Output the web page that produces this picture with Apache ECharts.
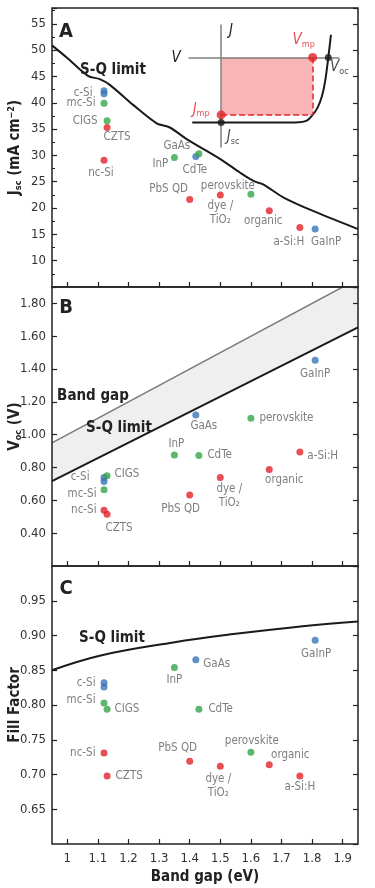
<!DOCTYPE html>
<html lang="en">
<head>
    <meta charset="UTF-8">
    <title>pv materials</title>
    <script src="https://cdn.jsdelivr.net/npm/echarts@6/dist/echarts.min.js"></script>
    <style>
        html, body { margin: 0; padding: 0; background: #fff; }
        #chart { width: 375px; height: 888px; }
    </style>
</head>
<body>
<div id="chart"></div>
<script>
    var materials = ['c-Si', 'c-Si', 'mc-Si', 'CIGS', 'CZTS', 'nc-Si', 'InP', 'GaAs', 'CdTe', 'PbS QD', 'dye /\nTiO₂', 'perovskite', 'organic', 'a-Si:H', 'GaInP'];
    var materialClass = ['both', 'both', 'one', 'one', 'none', 'none', 'one', 'both', 'one', 'none', 'none', 'one', 'none', 'none', 'both'];
    var bandGap = [1.12, 1.12, 1.12, 1.13, 1.13, 1.12, 1.35, 1.42, 1.43, 1.40, 1.50, 1.60, 1.66, 1.76, 1.81];
    var jsc = [42.3, 41.7, 39.9, 36.6, 35.3, 29.1, 29.6, 29.8, 30.3, 21.6, 22.5, 22.6, 19.5, 16.3, 16.0];
    var voc = [0.74, 0.715, 0.665, 0.75, 0.515, 0.54, 0.876, 1.12, 0.874, 0.632, 0.74, 1.10, 0.788, 0.894, 1.454];
    var ff = [0.832, 0.826, 0.803, 0.794, 0.698, 0.731, 0.854, 0.865, 0.794, 0.719, 0.712, 0.732, 0.714, 0.698, 0.893];

    // Shockley-Queisser limits
    var sqJscEg = [0.95, 1.00, 1.0675, 1.106, 1.139, 1.215, 1.292, 1.335, 1.39, 1.50, 1.565, 1.61, 1.64, 1.707, 1.805, 1.95];
    var sqJsc = [50.9, 48.5, 45.1, 44.5, 43.4, 39.6, 36.1, 35.3, 33.1, 29.3, 26.7, 25.1, 24.5, 22.0, 19.4, 16.0];
    var sqVocEg = [0.95, 1.95];
    var sqVoc = [0.717, 1.654];
    var gapVoc = [0.95, 1.95];
    var sqFfEg = [0.95, 1.106, 1.346, 1.543, 1.762, 1.95];
    var sqFf = [0.850, 0.871, 0.890, 0.902, 0.913, 0.920];

    // tick labels
    var gapTicks = [1.0, 1.1, 1.2, 1.3, 1.4, 1.5, 1.6, 1.7, 1.8, 1.9];

    // J-V schematic (normalised: V / Voc, J / Jsc)
    var jvV = [-0.27, 0.60, 0.72, 0.80, 0.854, 0.90, 0.94, 0.97, 1.00, 1.025];
    var jvJ = [1.00, 1.00, 0.995, 0.97, 0.882, 0.77, 0.60, 0.37, 0.00, -0.35];
    var vmp = 0.854, jmp = 0.882;

    var classColor = { both: '#3a73b9', one: '#35a548', none: '#e2232a' };
    var FONT = "'Liberation Sans Narrow', 'DejaVu Sans Condensed', sans-serif";

    // label placement: ['c', dx, dy] centred offset, ['l'|'r', distance, dy]
    var layoutA = {
        'c-Si': ['l', 8, 2], 'mc-Si': ['l', 5, 0], 'CIGS': ['l', 6, 0], 'CZTS': ['c', 10, 10],
        'nc-Si': ['c', -3, 13], 'InP': ['c', -14, 7], 'GaAs': ['c', -19, -10], 'CdTe': ['c', -4, 16],
        'PbS QD': ['c', -21, -11], 'dye /\nTiO₂': ['c', 0, 18], 'perovskite': ['c', -23, -8],
        'organic': ['c', -6, 10], 'a-Si:H': ['c', -11, 15], 'GaInP': ['c', 11, 13]
    };
    var layoutB = {
        'c-Si': ['l', 11, 0], 'mc-Si': ['l', 4, 4], 'CIGS': ['r', 4, -2], 'CZTS': ['c', 12, 14],
        'nc-Si': ['l', 4, 0], 'InP': ['c', 2, -11], 'GaAs': ['c', 8, 11], 'CdTe': ['r', 5, 0],
        'PbS QD': ['c', -9, 14], 'dye /\nTiO₂': ['c', 9, 19], 'perovskite': ['r', 5, 0],
        'organic': ['c', 15, 11], 'a-Si:H': ['r', 4, 4], 'GaInP': ['c', 0, 14]
    };
    var layoutC = {
        'c-Si': ['l', 5, 0], 'mc-Si': ['l', 5, -3], 'CIGS': ['r', 4, 0], 'CZTS': ['r', 5, 0],
        'nc-Si': ['l', 5, 0], 'InP': ['c', 0, 13], 'GaAs': ['r', 4, 4], 'CdTe': ['r', 6, 0],
        'PbS QD': ['c', -12, -13], 'dye /\nTiO₂': ['c', -2, 20], 'perovskite': ['c', 1, -11],
        'organic': ['c', 21, -10], 'a-Si:H': ['c', 0, 11], 'GaInP': ['c', 1, 14]
    };

    function makeLabel(spec) {
        if (!spec) return { show: false };
        var base = { show: true, formatter: '{b}', color: '#5c5c5c', fontSize: 11.5, fontFamily: FONT, lineHeight: 14 };
        if (spec[0] === 'c') {
            base.position = 'inside';
            base.align = 'center';
            base.offset = [spec[1], spec[2]];
        } else {
            base.position = spec[0] === 'l' ? 'left' : 'right';
            base.distance = spec[1];
            base.offset = [0, spec[2]];
        }
        return base;
    }

    function pointData(values, layout) {
        var seen = {};
        return materials.map(function (m, i) {
            var first = !seen[m];
            seen[m] = true;
            return {
                name: m,
                value: [bandGap[i], values[i]],
                itemStyle: { color: classColor[materialClass[i]] },
                label: makeLabel(first ? layout[m] : null)
            };
        });
    }

    function zip(xs, ys) {
        return xs.map(function (x, i) { return [x, ys[i]]; });
    }

    var frame = '#222';

    function xAx(gridIndex, withLabels) {
        return {
            type: 'value', gridIndex: gridIndex, min: 0.95, max: 1.95, z: 10,
            axisLine: { show: false },
            axisTick: { show: true, inside: true, length: 5, lineStyle: { color: frame, width: 1.2 }, customValues: gapTicks },
            axisLabel: withLabels ? {
                show: true, customValues: gapTicks, margin: 8, color: '#333', fontSize: 13, fontFamily: FONT,
                formatter: function (v) { return String(+v.toFixed(1)); }
            } : { show: false },
            splitLine: { show: false },
            name: withLabels ? 'Band gap (eV)' : '',
            nameLocation: 'middle', nameGap: 26, nameMoveOverlap: false,
            nameTextStyle: { fontSize: 15, fontWeight: 'bold', color: '#222', fontFamily: FONT }
        };
    }

    function yAx(gridIndex, min, max, interval, digits, showLabels, pos, name, minor) {
        return {
            type: 'value', gridIndex: gridIndex, min: min, max: max, interval: interval, position: pos, z: 10,
            axisLine: { show: false },
            axisTick: { show: true, inside: true, length: 5, lineStyle: { color: frame, width: 1.2 } },
            minorTick: { show: !!minor, splitNumber: 2, length: 3, lineStyle: { color: frame, width: 1 } },
            axisLabel: {
                show: showLabels, showMinLabel: false, showMaxLabel: false, margin: 6,
                color: '#333', fontSize: 13, fontFamily: FONT,
                formatter: function (v) { return v.toFixed(digits); }
            },
            splitLine: { show: false },
            name: name || '', nameLocation: 'middle', nameRotate: 90, nameGap: 29, nameMoveOverlap: false,
            nameTextStyle: {
                fontFamily: FONT, fontWeight: 'bold', fontSize: 15, color: '#222',
                rich: {
                    b: { fontFamily: FONT, fontWeight: 'bold', fontSize: 15, color: '#222' },
                    s: { fontFamily: FONT, fontWeight: 'bold', fontSize: 9, color: '#222', padding: [7, 0, 0, 0] },
                    p: { fontFamily: FONT, fontWeight: 'bold', fontSize: 9, color: '#222', padding: [0, 0, 7, 0] }
                }
            }
        };
    }

    function dotSeries(x, y, values, layout) {
        return {
            type: 'scatter', xAxisIndex: x, yAxisIndex: y, symbolSize: 7, z: 5,
            data: pointData(values, layout)
        };
    }

    function gridBox(top, height) {
        return {
            left: 52, top: top, width: 306, height: height, outerBoundsMode: 'none', containLabel: false,
            show: true, borderColor: frame, borderWidth: 1.5, backgroundColor: 'transparent', z: 10
        };
    }

    var sub = { fontFamily: FONT, fontSize: 9, padding: [8, 0, 0, 0] };
    var ital = { fontFamily: FONT, fontSize: 15, fontStyle: 'italic' };

    function jvLabel(text, offset, color) {
        return {
            show: true, position: 'inside', offset: offset, formatter: text,
            rich: { i: Object.assign({ color: color }, ital), s: Object.assign({ color: color }, sub) }
        };
    }

    var chart = echarts.init(document.getElementById('chart'));

    var option = {
        animation: false,
        grid: [
            gridBox(8, 279),
            gridBox(287, 279),
            gridBox(566, 278),
            { left: 189, top: 25, width: 150, height: 122, outerBoundsMode: 'none', containLabel: false }
        ],
        xAxis: [
            xAx(0, false), xAx(1, false), xAx(2, true),
            {
                type: 'value', gridIndex: 3, min: -0.3, max: 1.1, z: 3,
                axisLine: { show: true, onZero: true, symbol: 'none', lineStyle: { color: '#808080', width: 1.5 } },
                axisTick: { show: false }, axisLabel: { show: false }, splitLine: { show: false }
            }
        ],
        yAxis: [
            yAx(0, 5, 58, 5, 0, true, 'left', '{b|J}{s|sc}{b| (mA cm}{p|−2}{b|)}', true),
            yAx(0, 5, 58, 5, 0, false, 'right'),
            yAx(1, 0.2, 1.9, 0.2, 2, true, 'left', '{b|V}{s|oc}{b| (V)}'),
            yAx(1, 0.2, 1.9, 0.2, 2, false, 'right'),
            yAx(2, 0.6, 1.0, 0.05, 2, true, 'left', '{b|Fill Factor}'),
            yAx(2, 0.6, 1.0, 0.05, 2, false, 'right'),
            {
                type: 'value', gridIndex: 3, min: -0.5, max: 1.375, inverse: true, z: 3,
                axisLine: { show: true, onZero: true, symbol: 'none', lineStyle: { color: '#808080', width: 1.5 } },
                axisTick: { show: false }, axisLabel: { show: false }, splitLine: { show: false }
            }
        ],
        series: [
            // panel A
            {
                type: 'line', xAxisIndex: 0, yAxisIndex: 0, smooth: 0.3, symbol: 'none',
                lineStyle: { color: '#1a1a1a', width: 2 }, data: zip(sqJscEg, sqJsc)
            },
            dotSeries(0, 0, jsc, layoutA),
            // J-V inset
            {
                type: 'line', xAxisIndex: 3, yAxisIndex: 6, smooth: 0.35, symbol: 'none', z: 4,
                lineStyle: { color: '#1a1a1a', width: 2 }, data: zip(jvV, jvJ),
                markArea: {
                    silent: true, itemStyle: { color: '#f7b5b5' },
                    data: [[{ coord: [0, 0] }, { coord: [vmp, jmp] }]]
                },
                markLine: {
                    silent: true, symbol: 'none', label: { show: false },
                    lineStyle: { color: '#e2232a', type: 'dashed', width: 1.5 },
                    data: [
                        [{ coord: [vmp, 0] }, { coord: [vmp, jmp] }],
                        [{ coord: [0, jmp] }, { coord: [vmp, jmp] }]
                    ]
                }
            },
            {
                type: 'scatter', xAxisIndex: 3, yAxisIndex: 6, z: 6,
                data: [
                    { value: [vmp, 0], symbolSize: 9, itemStyle: { color: '#e2232a' }, label: jvLabel('{i|V}{s|mp}', [-9, -17], '#e2232a') },
                    { value: [0, jmp], symbolSize: 9, itemStyle: { color: '#e2232a' }, label: jvLabel('{i|J}{s|mp}', [-20, -5], '#e2232a') },
                    { value: [1, 0], symbolSize: 7, itemStyle: { color: '#1a1a1a' }, label: jvLabel('{i|V}{s|oc}', [11, 10], '#222') },
                    { value: [0, 1], symbolSize: 7, itemStyle: { color: '#1a1a1a' }, label: jvLabel('{i|J}{s|sc}', [12, 15], '#222') }
                ]
            },
            // panel B: grey band between S-Q limit and band gap
            {
                type: 'line', xAxisIndex: 1, yAxisIndex: 2, symbol: 'none', z: 1,
                lineStyle: { color: '#1a1a1a', width: 2 }, areaStyle: { color: '#efefef', opacity: 1, origin: 'end' },
                data: zip(sqVocEg, sqVoc)
            },
            {
                type: 'line', xAxisIndex: 1, yAxisIndex: 2, symbol: 'none', z: 1,
                lineStyle: { color: '#7a7a7a', width: 1.5 }, areaStyle: { color: '#ffffff', opacity: 1, origin: 'end' },
                data: zip(sqVocEg, gapVoc)
            },
            dotSeries(1, 2, voc, layoutB),
            // panel C
            {
                type: 'line', xAxisIndex: 2, yAxisIndex: 4, smooth: 0.4, symbol: 'none',
                lineStyle: { color: '#1a1a1a', width: 2 }, data: zip(sqFfEg, sqFf)
            },
            dotSeries(2, 4, ff, layoutC)
        ],
        graphic: [
            { type: 'text', x: 66, y: 32, z: 20, style: { text: 'A', font: 'bold 20px ' + FONT, fill: '#222', align: 'center', verticalAlign: 'middle' } },
            { type: 'text', x: 66, y: 308, z: 20, style: { text: 'B', font: 'bold 20px ' + FONT, fill: '#222', align: 'center', verticalAlign: 'middle' } },
            { type: 'text', x: 66, y: 589, z: 20, style: { text: 'C', font: 'bold 20px ' + FONT, fill: '#222', align: 'center', verticalAlign: 'middle' } },
            { type: 'text', x: 113, y: 70, z: 20, style: { text: 'S-Q limit', font: 'bold 15px ' + FONT, fill: '#222', align: 'center', verticalAlign: 'middle' } },
            { type: 'text', x: 93, y: 396, z: 20, style: { text: 'Band gap', font: 'bold 15px ' + FONT, fill: '#222', align: 'center', verticalAlign: 'middle' } },
            { type: 'text', x: 119, y: 428, z: 20, style: { text: 'S-Q limit', font: 'bold 15px ' + FONT, fill: '#222', align: 'center', verticalAlign: 'middle' } },
            { type: 'text', x: 112, y: 638, z: 20, style: { text: 'S-Q limit', font: 'bold 15px ' + FONT, fill: '#222', align: 'center', verticalAlign: 'middle' } },
            { type: 'text', x: 231, y: 31, z: 20, style: { text: 'J', font: 'italic 15px ' + FONT, fill: '#222', align: 'center', verticalAlign: 'middle' } },
            { type: 'text', x: 176, y: 58, z: 20, style: { text: 'V', font: 'italic 15px ' + FONT, fill: '#222', align: 'center', verticalAlign: 'middle' } }
        ]
    };

    chart.setOption(option);
</script>
</body>
</html>
